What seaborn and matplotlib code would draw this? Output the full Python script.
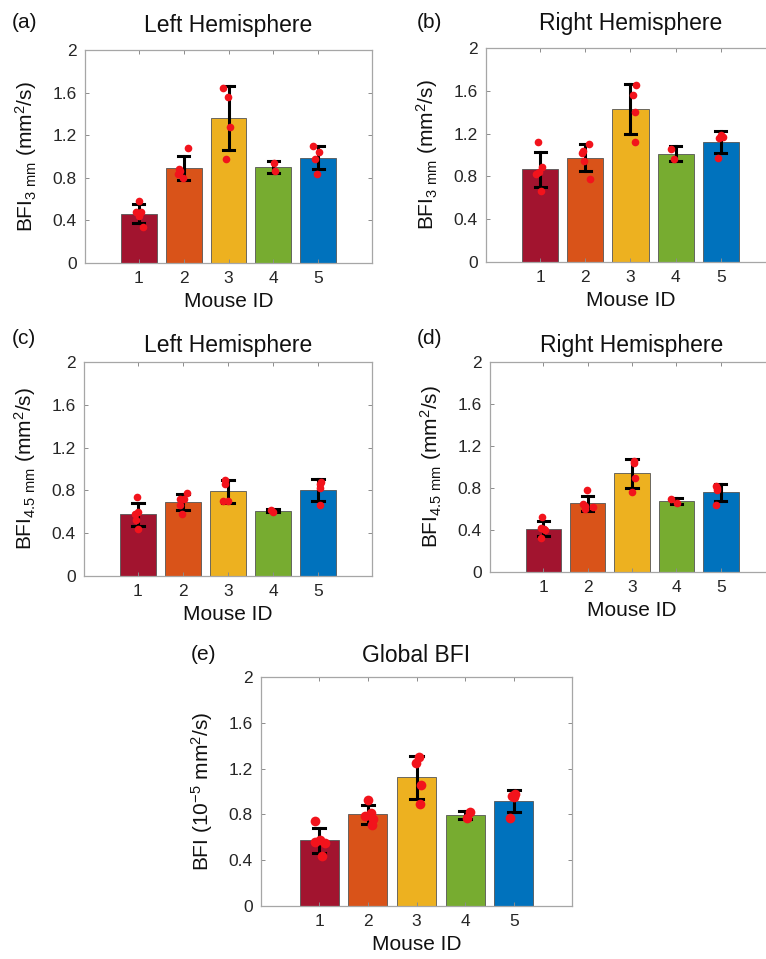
import numpy as np
import pandas as pd
import seaborn as sns
import matplotlib.pyplot as plt
from matplotlib.ticker import FixedLocator, FixedFormatter

mouse_ids = ['1', '2', '3', '4', '5']
bar_colors = ['#A2142F', '#D95319', '#EDB120', '#77AC30', '#0072BD']
dot_color = '#f2131c'

# per-animal BFI samples (one list per mouse)
left_3mm = [[0.58, 0.48, 0.48, 0.44, 0.34],
            [1.08, 0.88, 0.86, 0.84, 0.80],
            [1.64, 1.56, 1.28, 0.98],
            [0.86, 0.94],
            [1.10, 1.04, 0.98, 0.84]]
right_3mm = [[1.12, 0.89, 0.84, 0.82, 0.66],
             [1.10, 1.04, 1.02, 0.94, 0.78],
             [1.65, 1.56, 1.40, 1.12],
             [0.96, 1.06],
             [1.17, 1.19, 1.16, 0.97]]
left_45mm = [[0.74, 0.60, 0.58, 0.52, 0.44],
             [0.78, 0.72, 0.72, 0.66, 0.58],
             [0.90, 0.86, 0.70, 0.70],
             [0.60, 0.62],
             [0.86, 0.88, 0.82, 0.66]]
right_45mm = [[0.52, 0.40, 0.42, 0.41, 0.32],
              [0.78, 0.65, 0.63, 0.62, 0.60],
              [1.06, 1.04, 0.90, 0.76],
              [0.66, 0.70],
              [0.82, 0.78, 0.80, 0.64]]
global_bfi = [[0.74, 0.58, 0.56, 0.55, 0.44],
              [0.93, 0.81, 0.79, 0.76, 0.71],
              [1.30, 1.25, 1.06, 0.89],
              [0.77, 0.82],
              [0.98, 0.96, 0.95, 0.77]]

y_ticks = [0, 0.4, 0.8, 1.2, 1.6, 2]
y_tick_labels = ['0', '0.4', '0.8', '1.2', '1.6', '2']

plt.rcParams['font.family'] = ['Liberation Sans', 'DejaVu Sans']
plt.rcParams['mathtext.default'] = 'regular'

W, H = 766, 959
fig = plt.figure(figsize=(W / 100, H / 100), dpi=100)
np.random.seed(3)


def to_frame(samples):
    rows = [(mouse_ids[i], v) for i, vals in enumerate(samples) for v in vals]
    return pd.DataFrame(rows, columns=['mouse', 'bfi'])


def panel(box, samples, title, ylabel, letter, letter_xy, title_pad, dot_size=5.5):
    l, t, r, b = box
    ax = fig.add_axes([l / W, 1 - b / H, (r - l) / W, (b - t) / H])
    df = to_frame(samples)
    sns.barplot(data=df, x='mouse', y='bfi', hue='mouse', order=mouse_ids,
                hue_order=mouse_ids, palette=bar_colors, errorbar='sd',
                capsize=0.25, err_kws={'color': 'black', 'linewidth': 2.2},
                edgecolor='#555555', linewidth=0.6, width=0.8, legend=False,
                saturation=1, ax=ax)
    sns.stripplot(data=df, x='mouse', y='bfi', order=mouse_ids, color=dot_color,
                  jitter=0.13, size=dot_size, linewidth=0, zorder=5, ax=ax)
    ax.set_xlim(-1.2, 5.2)
    ax.set_ylim(0, 2)
    ax.yaxis.set_major_locator(FixedLocator(y_ticks))
    ax.yaxis.set_major_formatter(FixedFormatter(y_tick_labels))
    ax.tick_params(direction='in', length=3, width=0.7, color='#8c8c8c',
                   labelcolor='#262626', labelsize=12.5, top=True, right=True, pad=6)
    for s in ax.spines.values():
        s.set_color('#a6a6a6')
        s.set_linewidth(0.9)
    ax.set_xlabel('Mouse ID', fontsize=15, color='#111111', labelpad=4)
    ax.set_ylabel(ylabel, fontsize=15, color='#111111', labelpad=10)
    ax.set_title(title, fontsize=16.5, color='#111111', pad=title_pad)
    fig.text(letter_xy[0] / W, 1 - letter_xy[1] / H, letter, fontsize=15,
             ha='left', va='center', color='#111111')
    return ax


lbl_3 = r'BFI$_{3\ mm}$ (mm$^2$/s)'
lbl_45 = r'BFI$_{4.5\ mm}$ (mm$^2$/s)'

panel((85, 50, 372, 263), left_3mm, 'Left Hemisphere', lbl_3, '(a)', (12, 22), 13)
panel((486, 48, 775, 262), right_3mm, 'Right Hemisphere', lbl_3, '(b)', (417, 22), 13)
panel((84, 362, 372, 576), left_45mm, 'Left Hemisphere', lbl_45, '(c)', (12, 339), 7)
panel((490, 362, 774, 572), right_45mm, 'Right Hemisphere', lbl_45, '(d)', (417, 339), 7)
panel((261, 677, 572, 906), global_bfi, 'Global BFI', r'BFI (10$^{-5}$ mm$^2$/s)',
      '(e)', (191, 655), 11, dot_size=7)

fig.savefig('out.png', dpi=100)
